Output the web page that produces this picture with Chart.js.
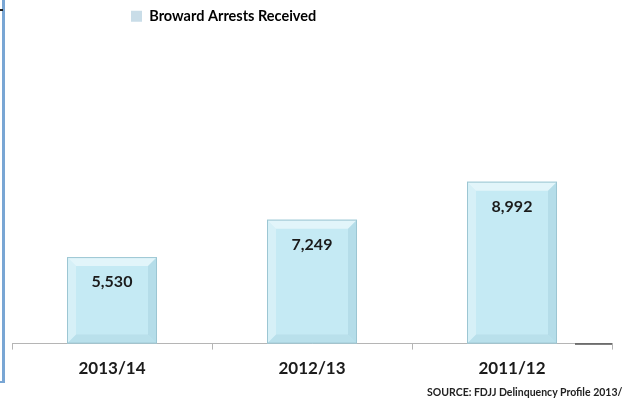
<!DOCTYPE html>
<html>
<head>
<meta charset="utf-8">
<script src="https://cdn.jsdelivr.net/npm/chart.js@4.4.1/dist/chart.umd.min.js"></script>
<style>
  html, body { margin: 0; padding: 0; background: #ffffff; overflow: hidden; }
  #wrap { position: relative; width: 623px; height: 398px; }
  #frame { position: absolute; left: 0; top: -3px; width: 2px; height: 384px;
           border-right: 3px solid #79a6d4; border-bottom: 2px solid #79a6d4; }
  #tick { position: absolute; left: 0; top: 9px; width: 3px; height: 2px; background: #222; }
  #source { position: absolute; left: 427px; top: 386px; white-space: nowrap;
            font: bold 10.5px Lato, "Liberation Sans", sans-serif; color: #222; }
</style>
</head>
<body>
<div id="wrap">
  <canvas id="c" width="623" height="398"></canvas>
  <div id="frame"></div>
  <div id="tick"></div>
  <div id="source">SOURCE: FDJJ Delinquency Profile 2013/14</div>
</div>
<script>
const categories = ["2013/14", "2012/13", "2011/12"];
const seriesName = "Broward Arrests Received";
const arrests = [5530, 7249, 8992];
const yMin = 1560;
const yMax = 15790;

const FONT = "Lato, 'Liberation Sans', sans-serif";

const legendShift = {
  id: 'legendShift',
  afterLayout(chart) {
    const lg = chart.legend;
    if (!lg || !lg.lineWidths) return;
    const pad = lg.options.labels.padding;
    const start = (lg.left + pad + lg.right - lg.lineWidths[0]) / 2;
    const d = 131 - start;
    lg.left += d; lg.right += d;
  }
};

const bevel = {
  id: 'bevel',
  afterDatasetsDraw(chart) {
    const ctx = chart.ctx;
    const meta = chart.getDatasetMeta(0);
    const ds = chart.data.datasets[0];
    meta.data.forEach((el, i) => {
      const l = el.x - el.width / 2, r = el.x + el.width / 2, t = el.y, b = el.base;
      const s = 9;
      const poly = (pts, fill) => {
        ctx.beginPath();
        ctx.moveTo(pts[0][0], pts[0][1]);
        for (let k = 1; k < pts.length; k++) ctx.lineTo(pts[k][0], pts[k][1]);
        ctx.closePath();
        ctx.fillStyle = fill;
        ctx.fill();
      };
      ctx.save();
      poly([[l, t], [r, t], [r - s, t + s], [l + s, t + s]], 'rgba(255,255,255,0.5)');
      poly([[l, t], [l + s, t + s], [l + s, b - s], [l, b]], 'rgba(255,255,255,0.3)');
      poly([[r, t], [r, b], [r - s, b - s], [r - s, t + s]], 'rgba(110,165,185,0.18)');
      poly([[l, b], [r, b], [r - s, b - s], [l + s, b - s]], 'rgba(110,165,185,0.14)');
      ctx.strokeStyle = '#9cc6d3';
      ctx.lineWidth = 1;
      ctx.strokeRect(l + 0.5, t + 0.5, el.width - 1, b - t - 1);
      ctx.fillStyle = '#1b1b1b';
      ctx.font = 'bold 16px ' + FONT;
      ctx.textAlign = 'center';
      ctx.textBaseline = 'middle';
      ctx.fillText(ds.data[i].toLocaleString('en-US'), el.x, t + 25);
      ctx.restore();
    });
    const a = chart.chartArea;
    ctx.save();
    ctx.strokeStyle = '#555';
    ctx.lineWidth = 1.5;
    ctx.beginPath();
    ctx.moveTo(a.right - 37, a.bottom + 0.5);
    ctx.lineTo(a.right, a.bottom + 0.5);
    ctx.stroke();
    ctx.restore();
  }
};

new Chart(document.getElementById('c'), {
  type: 'bar',
  data: {
    labels: categories,
    datasets: [{
      label: seriesName,
      data: arrests,
      base: yMin,
      backgroundColor: '#c5eaf4',
      borderWidth: 0,
      barPercentage: 0.9,
      categoryPercentage: 0.5
    }]
  },
  options: {
    responsive: false,
    animation: false,
    layout: { padding: { left: 12, right: 11, top: 0, bottom: 10 } },
    plugins: {
      legend: {
        display: true,
        position: 'top',
        align: 'center',
        labels: {
          boxWidth: 11, boxHeight: 11, padding: 9,
          color: '#1b1b1b',
          font: { family: FONT, size: 14.5, weight: 'bold' },
          generateLabels: (chart) => [{
            text: seriesName, fillStyle: '#c9dde8', strokeStyle: '#c9dde8',
            lineWidth: 0, hidden: false, datasetIndex: 0
          }]
        }
      },
      tooltip: { enabled: false }
    },
    scales: {
      x: {
        offset: true,
        grid: { display: true, drawOnChartArea: false, drawTicks: true, tickLength: 6, color: '#b5b5b5', offset: true },
        border: { display: true, color: '#b5b5b5', width: 1 },
        ticks: { padding: 9, color: '#1b1b1b', font: { family: FONT, size: 17, weight: 'bold' } }
      },
      y: {
        display: false,
        min: yMin,
        max: yMax
      }
    }
  },
  plugins: [legendShift, bevel]
});
</script>
</body>
</html>
